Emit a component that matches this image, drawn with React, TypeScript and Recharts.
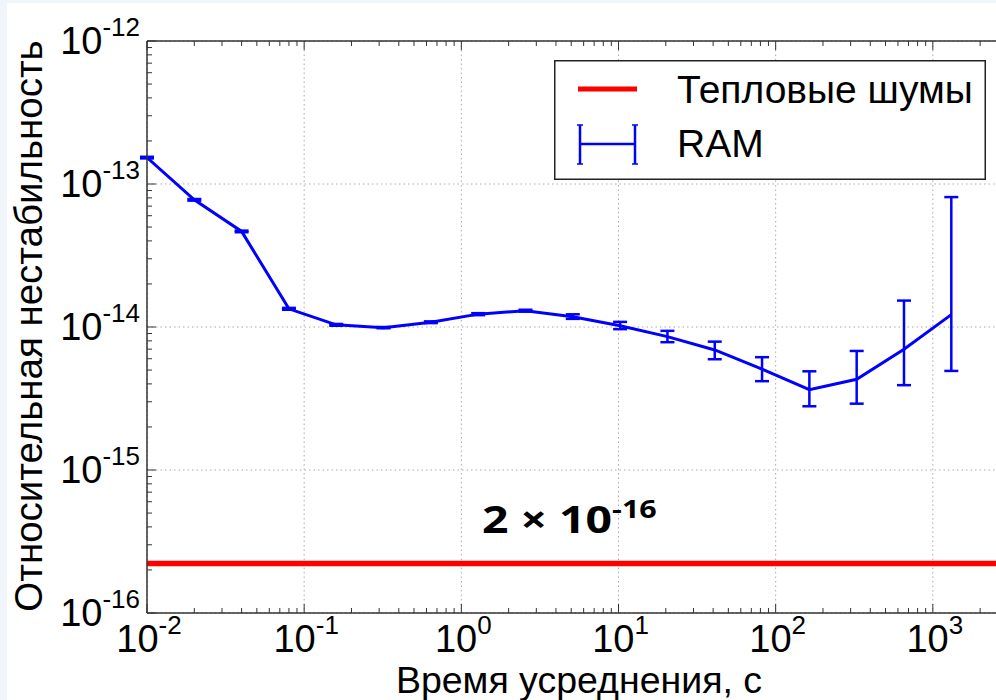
import { ComposedChart, Line, XAxis, YAxis, CartesianGrid, ErrorBar, Legend } from 'recharts';

// averaging time, s
const tau = [0.01, 0.02, 0.04, 0.08, 0.16, 0.32, 0.64, 1.28, 2.56, 5.12, 10.24, 20.48, 40.96, 81.92, 163.84, 327.68, 655.36, 1310.72];
// relative instability (RAM)
const ram = [1.53e-13, 7.75e-14, 4.66e-14, 1.34e-14, 1.035e-14, 9.9e-15, 1.08e-14, 1.23e-14, 1.3e-14, 1.18e-14, 1.02e-14, 8.57e-15, 6.91e-15, 5.07e-15, 3.65e-15, 4.31e-15, 7.0e-15, 1.22e-14];
const ramLow = [1.51e-13, 7.65e-14, 4.6e-14, 1.32e-14, 1.02e-14, 9.8e-15, 1.065e-14, 1.21e-14, 1.28e-14, 1.14e-14, 9.66e-15, 7.83e-15, 5.95e-15, 4.18e-15, 2.79e-15, 2.91e-15, 3.92e-15, 4.93e-15];
const ramHigh = [1.55e-13, 7.85e-14, 4.72e-14, 1.36e-14, 1.05e-14, 1.0e-14, 1.095e-14, 1.25e-14, 1.32e-14, 1.227e-14, 1.086e-14, 9.4e-15, 7.9e-15, 6.15e-15, 4.9e-15, 6.8e-15, 1.53e-14, 8.1e-14];
// thermal noise floor
const thermalTau = [1e-2, 1e4];
const thermalLevel = 2.22e-16;

const xMajor = [1e-2, 1e-1, 1e0, 1e1, 1e2, 1e3, 1e4];
const xLabelled = [1e-2, 1e-1, 1e0, 1e1, 1e2, 1e3];
const yMajor = [1e-16, 1e-15, 1e-14, 1e-13, 1e-12];

const ramRows = tau.map((t, i) => ({ tau: t, ram: ram[i], err: [ram[i] - ramLow[i], ramHigh[i] - ram[i]] }));
const thermalRows = thermalTau.map((t) => ({ tau: t, thermal: thermalLevel }));

function withMinors(majors: number[]) {
  const out: number[] = [];
  majors.forEach((m, i) => {
    out.push(m);
    if (i < majors.length - 1) for (let k = 2; k <= 9; k++) out.push(m * k);
  });
  return out;
}
const isMajor = (v: number) => Math.abs(Math.log10(v) - Math.round(Math.log10(v))) < 1e-6;
const isLabelledX = (v: number) => xLabelled.some((m) => Math.abs(v / m - 1) < 1e-9);

const FONT = '"Liberation Sans", Arial, sans-serif';
const AXIS = '#333';

const Pow10 = ({ x, y, v, anchor }: any) => (
  <text x={x} y={y} textAnchor={anchor} fontFamily={FONT} fontSize={38} fill="#000">
    10<tspan dy={-18} fontSize={26}>{Math.round(Math.log10(v))}</tspan>
  </text>
);

const BottomTick = ({ x, y, payload }: any) => {
  const major = isMajor(payload.value);
  return (
    <g>
      <line x1={x} x2={x} y1={y} y2={y - (major ? 9 : 5)} stroke={AXIS} strokeWidth={1} />
      {isLabelledX(payload.value) && <Pow10 x={x + 2} y={y + 39} v={payload.value} anchor="middle" />}
    </g>
  );
};

const TopTick = ({ x, y, payload }: any) => {
  const major = isMajor(payload.value);
  return <line x1={x} x2={x} y1={y} y2={y + (major ? 9 : 5)} stroke={AXIS} strokeWidth={1} />;
};

const LeftTick = ({ x, y, payload }: any) => {
  const major = isMajor(payload.value);
  return (
    <g>
      <line x1={x} x2={x + (major ? 9 : 5)} y1={y} y2={y} stroke={AXIS} strokeWidth={1} />
      {major && <Pow10 x={x - 7} y={y + 13} v={payload.value} anchor="end" />}
    </g>
  );
};

const renderYLabel = () => (
  <text x={28} y={326} transform="rotate(-90 28 326)" textAnchor="middle" dominantBaseline="central"
    fontFamily={FONT} fontSize={38.5} fill="#000">
    Относительная нестабильность
  </text>
);

const renderXLabel = () => (
  <text x={579} y={693} textAnchor="middle" fontFamily={FONT} fontSize={37.5} fill="#000">
    Время усреднения, с
  </text>
);

const renderLegend = () => (
  <svg width={432} height={120} style={{ display: 'block' }}>
    <rect x={0.75} y={0.75} width={430.5} height={118.5} fill="#fff" stroke="#222" strokeWidth={1.5} />
    <line x1={24} x2={83} y1={29} y2={29} stroke="#ff0000" strokeWidth={5} />
    <text x={123} y={43} fontFamily={FONT} fontSize={39} fill="#000">Тепловые шумы</text>
    <line x1={26} x2={81} y1={84} y2={84} stroke="#0000ff" strokeWidth={2.5} />
    <line x1={26} x2={26} y1={65} y2={104} stroke="#0000ff" strokeWidth={2.5} />
    <line x1={81} x2={81} y1={65} y2={104} stroke="#0000ff" strokeWidth={2.5} />
    <line x1={23} x2={29} y1={65} y2={65} stroke="#0000ff" strokeWidth={1.5} />
    <line x1={23} x2={29} y1={104} y2={104} stroke="#0000ff" strokeWidth={1.5} />
    <line x1={78} x2={84} y1={65} y2={65} stroke="#0000ff" strokeWidth={1.5} />
    <line x1={78} x2={84} y1={104} y2={104} stroke="#0000ff" strokeWidth={1.5} />
    <text x={123} y={97} fontFamily={FONT} fontSize={39} fill="#000">RAM</text>
  </svg>
);

export default function App() {
  const xTicks = withMinors(xMajor);
  const yTicks = withMinors(yMajor);
  return (
    <div style={{ position: 'absolute', left: 0, top: 0, width: 996, height: 700, overflow: 'hidden', background: '#eff5fb' }}>
      <div style={{ position: 'absolute', left: 7, top: 3, right: 0, bottom: 0, background: '#fff' }} />
      <div style={{ position: 'absolute', left: 0, top: 0 }}>
        <ComposedChart width={1100} height={700} margin={{ top: 40, right: 10, bottom: 27, left: 0 }}>
          <CartesianGrid stroke="#aaa" strokeDasharray="1.5 3" verticalValues={xMajor} horizontalValues={yMajor} />
          <XAxis
            dataKey="tau"
            type="number"
            scale="log"
            domain={[1e-2, 1e4]}
            allowDataOverflow
            ticks={xTicks}
            interval={0}
            tick={<BottomTick />}
            tickLine={false}
            tickSize={0}
            tickMargin={0}
            height={60}
            axisLine={{ stroke: AXIS, strokeWidth: 1.5 }}
            label={renderXLabel}
          />
          <XAxis
            xAxisId="top"
            orientation="top"
            dataKey="tau"
            type="number"
            scale="log"
            domain={[1e-2, 1e4]}
            allowDataOverflow
            ticks={xTicks}
            interval={0}
            tick={<TopTick />}
            tickLine={false}
            tickSize={0}
            tickMargin={0}
            height={1}
            axisLine={{ stroke: AXIS, strokeWidth: 1.5 }}
          />
          <YAxis
            type="number"
            scale="log"
            domain={[1e-16, 1e-12]}
            allowDataOverflow
            ticks={yTicks}
            interval={0}
            tick={<LeftTick />}
            tickLine={false}
            tickSize={0}
            tickMargin={0}
            width={147}
            axisLine={{ stroke: AXIS, strokeWidth: 1.5 }}
            label={renderYLabel}
          />
          <Legend layout="vertical" align="center" verticalAlign="middle" content={renderLegend}
            wrapperStyle={{ position: 'absolute', left: 554, top: 60, width: 432, height: 120 }} />
          <Line data={thermalRows} dataKey="thermal" name="Тепловые шумы" stroke="#ff0000" strokeWidth={5.5}
            dot={false} activeDot={false} isAnimationActive={false} />
          <Line data={ramRows} dataKey="ram" name="RAM" stroke="#0000ff" strokeWidth={3}
            dot={false} activeDot={false} isAnimationActive={false}>
            <ErrorBar dataKey="err" direction="y" width={7} stroke="#0000ff" strokeWidth={2.5} isAnimationActive={false} />
          </Line>
        </ComposedChart>
      </div>
      <svg width={996} height={700} style={{ position: 'absolute', left: 0, top: 0, pointerEvents: 'none' }}>
        <g transform="translate(482 533) scale(1.22 1)">
          <text x={0} y={0} fontFamily='"Open Sans", sans-serif' fontWeight="bold" fontSize={38} fill="#000">
            2 × 10<tspan dy={-15} fontSize={25}>-16</tspan>
          </text>
        </g>
      </svg>
    </div>
  );
}
